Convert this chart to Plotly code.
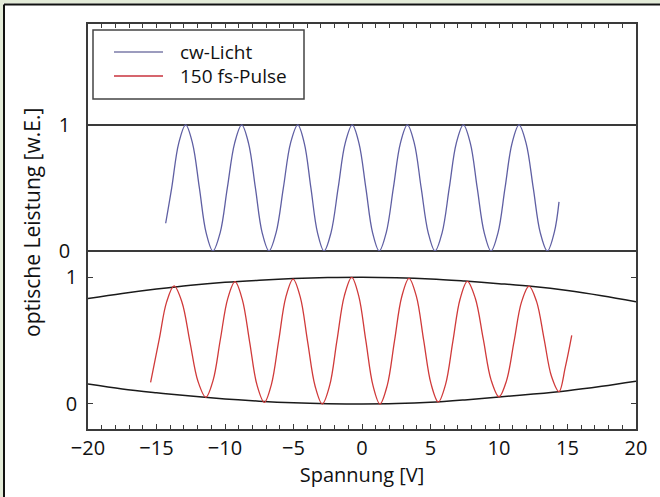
import plotly.graph_objects as go
from plotly.subplots import make_subplots

# ---------------- data ----------------
cw_x = [-14.33, -13.89, -13.38, -12.87, -12.37, -11.87, -11.38, -10.88,
        -10.35, -9.83, -9.30, -8.78, -8.28, -7.78, -7.29, -6.79,
        -6.27, -5.74, -5.22, -4.69, -4.21, -3.73, -3.25, -2.77,
        -2.26, -1.74, -1.23, -0.71, -0.22, 0.28, 0.77, 1.26,
        1.77, 2.29, 2.80, 3.31, 3.82, 4.32, 4.83, 5.33,
        5.85, 6.37, 6.88, 7.40, 7.91, 8.41, 8.92, 9.42,
        9.93, 10.44, 10.95, 11.46, 11.98, 12.50, 13.01, 13.53,
        14.04, 14.38]
cw_y = [0.22, 0.50, 0.854, 1.00, 0.854, 0.50, 0.146, 0.00,
        0.146, 0.50, 0.854, 1.00, 0.854, 0.50, 0.146, 0.00,
        0.146, 0.50, 0.854, 1.00, 0.854, 0.50, 0.146, 0.00,
        0.146, 0.50, 0.854, 1.00, 0.854, 0.50, 0.146, 0.00,
        0.146, 0.50, 0.854, 1.00, 0.854, 0.50, 0.146, 0.00,
        0.146, 0.50, 0.854, 1.00, 0.854, 0.50, 0.146, 0.00,
        0.146, 0.50, 0.854, 1.00, 0.854, 0.50, 0.146, 0.00,
        0.15, 0.39]

pulse_x = [-15.43, -14.80, -14.27, -13.72, -13.14, -12.56, -11.98, -11.40,
           -10.87, -10.34, -9.80, -9.27, -8.74, -8.20, -7.67, -7.13,
           -6.61, -6.08, -5.56, -5.03, -4.50, -3.97, -3.43, -2.90,
           -2.36, -1.83, -1.29, -0.75, -0.24, 0.28, 0.80, 1.31,
           1.84, 2.37, 2.90, 3.43, 3.97, 4.50, 5.04, 5.57,
           6.10, 6.63, 7.16, 7.69, 8.27, 8.85, 9.42, 10.00,
           10.55, 11.10, 11.64, 12.19, 12.74, 13.29, 13.83, 14.38,
           14.84, 15.31]
pulse_y = [0.17, 0.51, 0.80, 0.93, 0.802, 0.49, 0.181, 0.053,
           0.186, 0.508, 0.830, 0.963, 0.824, 0.488, 0.152, 0.013,
           0.155, 0.499, 0.842, 0.984, 0.840, 0.492, 0.144, 0.00,
           0.146, 0.499, 0.852, 0.998, 0.852, 0.499, 0.146, 0.00,
           0.145, 0.495, 0.845, 0.990, 0.848, 0.503, 0.158, 0.016,
           0.155, 0.491, 0.827, 0.966, 0.833, 0.512, 0.190, 0.057,
           0.184, 0.493, 0.802, 0.929, 0.808, 0.513, 0.218, 0.097,
           0.29, 0.54]

env_x = [-20, -17.5, -15, -12.5, -10, -7.5, -5, -2.5, 0, 2.5, 5, 7.5, 10, 12.5, 15, 17.5, 20]
env_upper = [0.83, 0.87, 0.905, 0.935, 0.958, 0.975, 0.988, 0.996, 0.999, 0.995,
             0.985, 0.968, 0.948, 0.925, 0.893, 0.852, 0.805]
env_lower = [0.157, 0.118, 0.088, 0.062, 0.040, 0.022, 0.009, 0.002, 0.0, 0.003,
             0.013, 0.032, 0.055, 0.078, 0.105, 0.140, 0.180]

x_ticks = [-20, -15, -10, -5, 0, 5, 10, 15, 20]
x_ticktext = ["\u221220", "\u221215", "\u221210", "\u22125", "0", "5", "10", "15", "20"]
y_ticks = [0, 1]

legend_names = ["cw-Licht", "150 fs-Pulse"]
x_title = "Spannung [V]"
y_title = "optische Leistung [w.E.]"

# ---------------- styling ----------------
FONT = "Open Sans"
BLUE = "#5f5fa3"
RED = "#d03a3a"
AX = "#3a3a3a"
W, H = 660, 497
ML, MR, MT, MB = 88, 24, 24, 68
SPLIT = 251  # pixel row of the boundary between panels
PW, PH = W - ML - MR, H - MT - MB


def px(xp):
    return (xp - ML) / PW


def py(yp):
    return (H - MB - yp) / PH


split = py(SPLIT)

fig = make_subplots(rows=2, cols=1, shared_xaxes=True, vertical_spacing=0,
                    row_heights=[1 - split, split])

fig.add_trace(go.Scatter(x=cw_x, y=cw_y, mode="lines", name=legend_names[0],
                         line=dict(color=BLUE, width=1.3, shape="spline", smoothing=1),
                         showlegend=False), row=1, col=1)
fig.add_trace(go.Scatter(x=env_x, y=env_upper, mode="lines",
                         line=dict(color="#1a1a1a", width=1.5, shape="spline"),
                         showlegend=False), row=2, col=1)
fig.add_trace(go.Scatter(x=env_x, y=env_lower, mode="lines",
                         line=dict(color="#1a1a1a", width=1.5, shape="spline"),
                         showlegend=False), row=2, col=1)
fig.add_trace(go.Scatter(x=pulse_x, y=pulse_y, mode="lines", name=legend_names[1],
                         line=dict(color=RED, width=1.3, shape="spline", smoothing=1),
                         showlegend=False), row=2, col=1)

tickfont = dict(family=FONT, size=20, color="#111")
legfont = dict(family=FONT, size=19, color="#111")

# top panel axes
fig.update_xaxes(row=1, col=1, range=[-20, 20], side="top", showline=True, linecolor=AX,
                 linewidth=1.5, ticks="inside", ticklen=4, tickcolor=AX, dtick=1,
                 tick0=0, showticklabels=False, showgrid=False, zeroline=False)
fig.update_yaxes(row=1, col=1, range=[0, 1.8], tickvals=y_ticks, ticks="",
                 showline=True, mirror=True, linecolor=AX, linewidth=1.5,
                 showgrid=True, gridcolor=AX, gridwidth=1.5,
                 zeroline=True, zerolinecolor=AX, zerolinewidth=2,
                 tickfont=tickfont, ticklabelstandoff=12)

# bottom panel axes
fig.update_xaxes(row=2, col=1, range=[-20, 20], tickvals=x_ticks, ticktext=x_ticktext,
                 showline=True, linecolor=AX, linewidth=1.5, ticks="inside", ticklen=5,
                 tickcolor=AX, minor=dict(ticks="inside", dtick=1, ticklen=4, tickcolor=AX),
                 showgrid=False, zeroline=False, tickfont=tickfont, ticklabelstandoff=0,
                 title=dict(text=x_title, font=dict(family=FONT, size=20, color="#111"),
                            standoff=0))
fig.update_yaxes(row=2, col=1, range=[-0.197, 1.205], tickvals=y_ticks, ticks="inside",
                 ticklen=5, tickcolor=AX, showline=True, mirror="ticks", linecolor=AX,
                 linewidth=1.5, showgrid=False, zeroline=False, tickfont=tickfont,
                 ticklabelstandoff=5)

shapes = []
GREEN = "#e3ebd8"
# outer frame (light green strip and dark border at top/left)
shapes.append(dict(type="rect", xref="paper", yref="paper", x0=px(0), x1=px(W),
                   y0=py(3.5), y1=py(0), fillcolor=GREEN, line=dict(width=0), layer="below"))
shapes.append(dict(type="rect", xref="paper", yref="paper", x0=px(0), x1=px(3),
                   y0=py(H), y1=py(0), fillcolor=GREEN, line=dict(width=0), layer="below"))
shapes.append(dict(type="line", xref="paper", yref="paper", x0=px(4), x1=px(W),
                   y0=py(4.5), y1=py(4.5), line=dict(color="#111", width=2)))
shapes.append(dict(type="line", xref="paper", yref="paper", x0=px(4), x1=px(4),
                   y0=py(H), y1=py(4.5), line=dict(color="#111", width=2)))
# legend box and samples
shapes.append(dict(type="rect", xref="paper", yref="paper", x0=px(93), x1=px(304),
                   y0=py(99), y1=py(30), line=dict(color="#444", width=1.5),
                   fillcolor="white"))
shapes.append(dict(type="line", xref="paper", yref="paper", x0=px(114), x1=px(163),
                   y0=py(52), y1=py(52), line=dict(color="#7b7ba8", width=1.5)))
shapes.append(dict(type="line", xref="paper", yref="paper", x0=px(114), x1=px(163),
                   y0=py(76), y1=py(76), line=dict(color="#c8323c", width=1.5)))

annotations = [
    dict(text=legend_names[0], xref="paper", yref="paper", x=px(178), y=py(52),
         xanchor="left", yanchor="middle", showarrow=False, font=legfont),
    dict(text=legend_names[1], xref="paper", yref="paper", x=px(178), y=py(76),
         xanchor="left", yanchor="middle", showarrow=False, font=legfont),
    dict(text=y_title, xref="paper", yref="paper", x=px(32), y=py(223),
         xanchor="center", yanchor="middle", textangle=-90, showarrow=False,
         font=dict(family=FONT, size=21, color="#111")),
]

fig.update_layout(width=W, height=H, margin=dict(l=ML, r=MR, t=MT, b=MB),
                  paper_bgcolor="white", plot_bgcolor="white",
                  shapes=shapes, annotations=annotations, showlegend=False)

fig.write_html("out.html", config={"displayModeBar": False},
               post_script="document.body.style.margin='0';"
                           "document.body.style.overflow='hidden';")
